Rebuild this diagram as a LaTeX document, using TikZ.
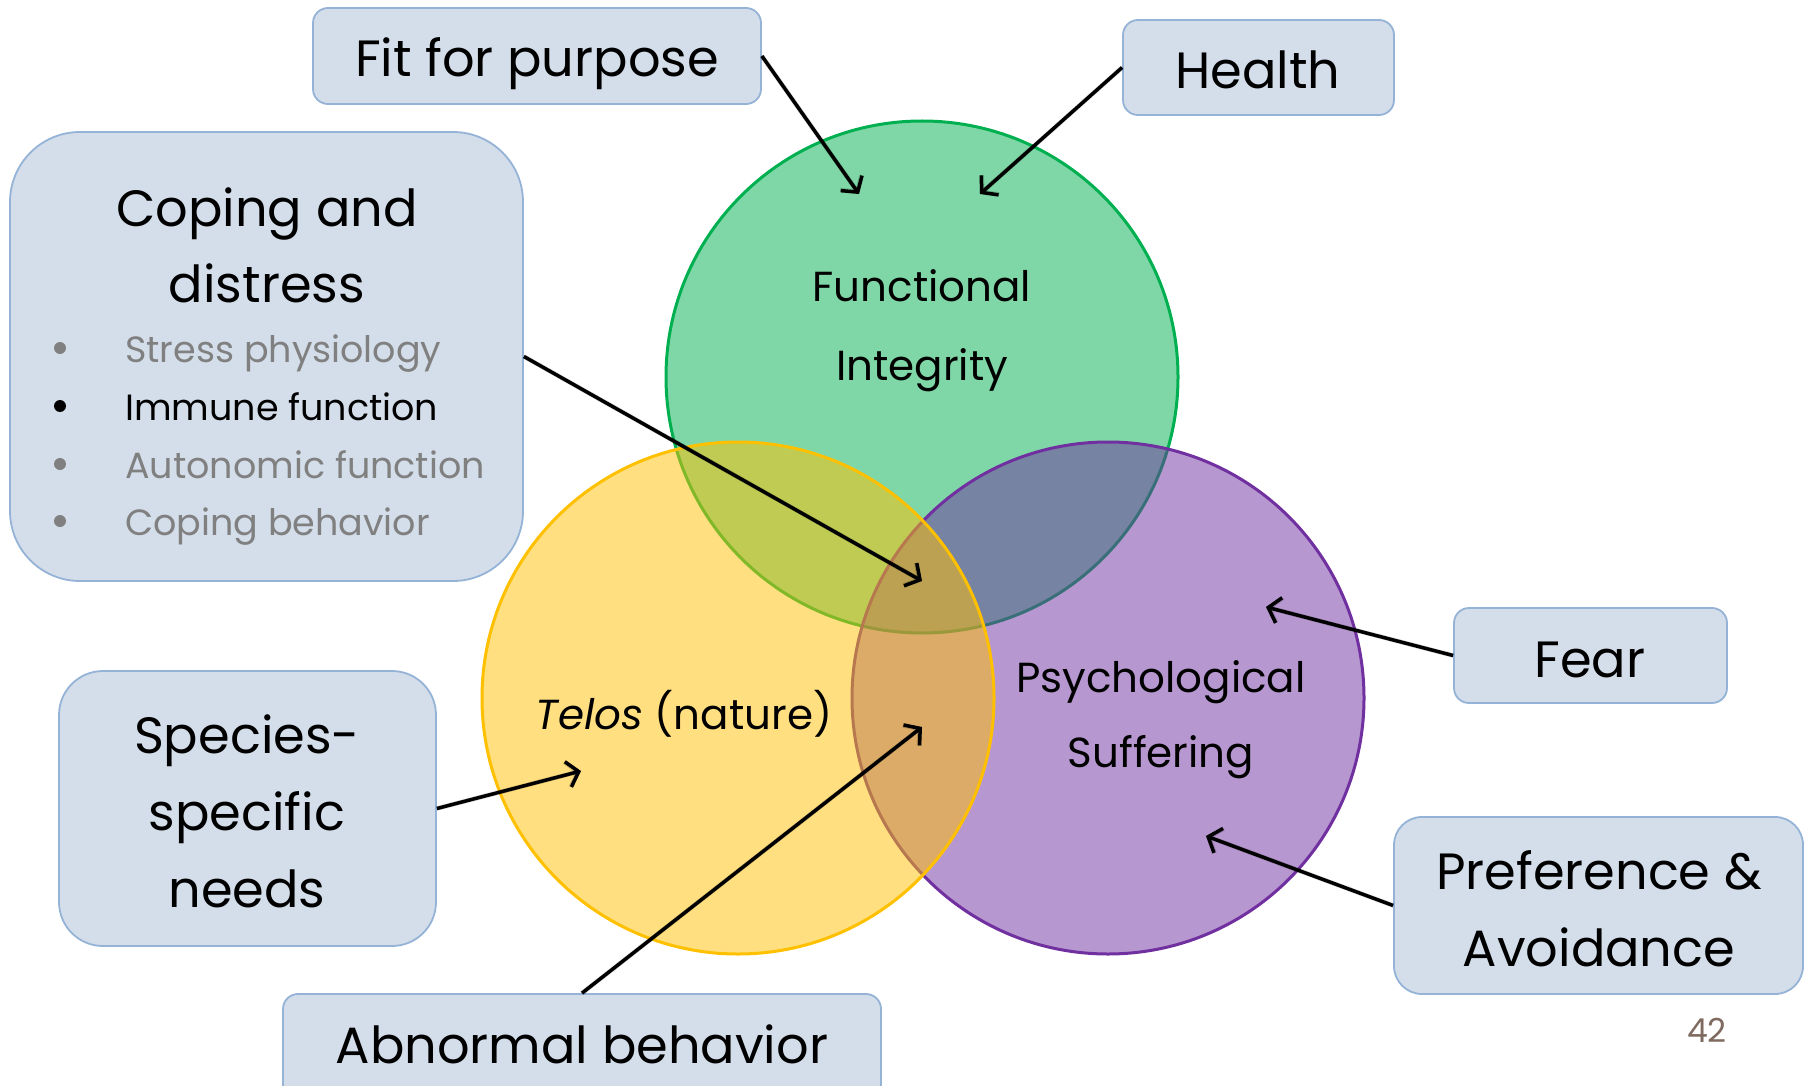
\documentclass[tikz,border=0pt]{standalone}
\usepackage{fontspec}
\setmainfont{Poppins}
\usetikzlibrary{arrows.meta}
\definecolor{boxfill}{HTML}{D4DEEA}
\definecolor{boxline}{HTML}{95B3D7}
\definecolor{cgreen}{HTML}{00B050}
\definecolor{cyellow}{HTML}{FFC000}
\definecolor{cpurple}{HTML}{7030A0}
\definecolor{numcol}{HTML}{7F6A60}
\definecolor{bulletgray}{HTML}{808080}
\begin{document}
\begin{tikzpicture}[x=1pt,y=-1pt,
 box/.style={draw=boxline,fill=boxfill,line width=1.8pt,inner sep=0pt},
 venn/.style={circle,minimum size=512pt,inner sep=0pt,line width=3pt,fill opacity=0.5},
 big/.style={anchor=base,font=\fontsize{51}{60}\selectfont,inner sep=0pt},
 mid/.style={anchor=base,font=\fontsize{42}{50}\selectfont,inner sep=0pt},
 small/.style={anchor=base west,font=\fontsize{36.5}{44}\selectfont,inner sep=0pt},
 arr/.style={-{Straight Barb[length=11pt,width=26pt]},line width=3.5pt},
 shadowarr/.style={-{Straight Barb[length=11pt,width=26pt]},line width=4.5pt,draw=black,opacity=0.18}
]
\clip (0,0) rectangle (1810,1086);
\fill[white] (0,0) rectangle (1810,1086);

% circles: green, purple, yellow (drawing order)
\node[venn,draw=cgreen,fill=cgreen] (green) at (922,377) {};
\node[venn,draw=cpurple,fill=cpurple] (purple) at (1108,698) {};
\node[venn,draw=cyellow,fill=cyellow] (yellow) at (738,698) {};

% circle labels
\node[mid] (fun1) at (922,301) {Functional};
\node[mid] (fun2) at (922,380) {Integrity};
\node[mid] (telos) at (684,729) {\textit{Telos} (nature)};
\node[mid] (psy1) at (1161,692) {Psychological};
\node[mid] (psy2) at (1161,767) {Suffering};

% boxes
\node[box,rounded corners=15pt,minimum width=448pt,minimum height=96pt] (fit) at (537,56) {};
\node[box,rounded corners=15pt,minimum width=271pt,minimum height=95pt] (health) at (1258.5,67.5) {};
\node[box,rounded corners=70pt,minimum width=513pt,minimum height=449pt] (coping) at (266.5,356.5) {};
\node[box,rounded corners=44pt,minimum width=377pt,minimum height=275pt] (species) at (247.5,808.5) {};
\node[box,rounded corners=15pt,minimum width=273pt,minimum height=95pt] (fear) at (1590.5,655.5) {};
\node[box,rounded corners=28pt,minimum width=409pt,minimum height=177pt] (pref) at (1598.5,905.5) {};
\node[box,rounded corners=15pt,minimum width=598pt,minimum height=110pt] (abn) at (582,1049) {};

% box texts
\node[big] (fitt) at (537,77) {Fit for purpose};
\node[big] (healtht) at (1258,89) {Health};
\node[big] (cop1) at (267,226) {Coping and};
\node[big] (cop2) at (267,302) {distress};
\node[small,text=bulletgray] (b1) at (125,362) {Stress physiology};
\node[small,text=black] (b2) at (125,420) {Immune function};
\node[small,text=bulletgray] (b3) at (125,478) {Autonomic function};
\node[small,text=bulletgray] (b4) at (125,535) {Coping behavior};
\fill[bulletgray] (60,348) circle (6pt);
\fill[black] (60,406) circle (6pt);
\fill[bulletgray] (60,464) circle (6pt);
\fill[bulletgray] (60,521) circle (6pt);
\node[big] (sp1) at (247,753) {Species-};
\node[big] (sp2) at (247,830) {specific};
\node[big] (sp3) at (247,907) {needs};
\node[big] (feart) at (1590,677) {Fear};
\node[big] (pr1) at (1599,889) {Preference \&};
\node[big] (pr2) at (1599,966) {Avoidance};
\node[big] (abnt) at (582,1063) {Abnormal behavior};
\node[anchor=base,font=\fontsize{33}{38}\selectfont,text=numcol,inner sep=0pt] (num) at (1707,1042) {42};

% arrow targets
\coordinate (tfit) at (859,194);
\coordinate (thealth) at (980,194);
\coordinate (tcop) at (922,581);
\coordinate (tsp) at (581,771);
\coordinate (tabn) at (922,727);
\coordinate (tfear) at (1266,607);
\coordinate (tpref) at (1206,836);

% arrow shadows
\begin{scope}[shift={(2,3)}]
\draw[shadowarr] (fit.east) -- (tfit);
\draw[shadowarr] (health.west) -- (thealth);
\draw[shadowarr] (coping.east) -- (tcop);
\draw[shadowarr] (species.east) -- (tsp);
\draw[shadowarr] (abn.north) -- (tabn);
\draw[shadowarr] (fear.west) -- (tfear);
\draw[shadowarr] (pref.west) -- (tpref);
\end{scope}

% arrows
\draw[arr] (fit.east) -- (tfit);
\draw[arr] (health.west) -- (thealth);
\draw[arr] (coping.east) -- (tcop);
\draw[arr] (species.east) -- (tsp);
\draw[arr] (abn.north) -- (tabn);
\draw[arr] (fear.west) -- (tfear);
\draw[arr] (pref.west) -- (tpref);
\end{tikzpicture}
\end{document}
